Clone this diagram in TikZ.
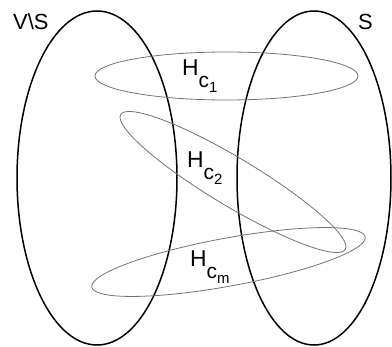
\documentclass[tikz,border=0pt]{standalone}
\usepackage{fontspec}
\setmainfont{Liberation Sans}
\newcommand{\hsub}[1]{{\fontsize{23}{26}\selectfont H}\raisebox{-12bp}{\fontsize{21}{21}\selectfont c\raisebox{-5bp}{\fontsize{15}{15}\selectfont #1}}}
\begin{document}
\begin{tikzpicture}[x=1bp,y=1bp,
 part/.style={draw=black,line width=1.5bp},
 edge/.style={draw=black!55,line width=0.8bp},
 lbl/.style={anchor=base west,inner sep=0pt,font=\fontsize{22}{26}\selectfont}]
\useasboundingbox (0,0) rectangle (392,347);
\draw[part] (97,169) ellipse [x radius=80,y radius=167];
\draw[part] (314,169) ellipse [x radius=77,y radius=167];
\draw[edge] (226.5,271) ellipse [x radius=131.5,y radius=24];
\draw[edge,rotate around={-31:(233,165)}] (233,165) ellipse [x radius=131,y radius=24];
\draw[edge,rotate around={10.4:(228.5,85)}] (228.5,85) ellipse [x radius=139,y radius=24];
\node[lbl] (vs) at (13,318) {V\textbackslash S};
\node[lbl] (s) at (358,318) {S};
\node[lbl] (h1) at (182,272) {\hsub{1}};
\node[lbl] (h2) at (187,180) {\hsub{2}};
\node[lbl] (hm) at (190,81) {\hsub{m}};
\end{tikzpicture}
\end{document}
